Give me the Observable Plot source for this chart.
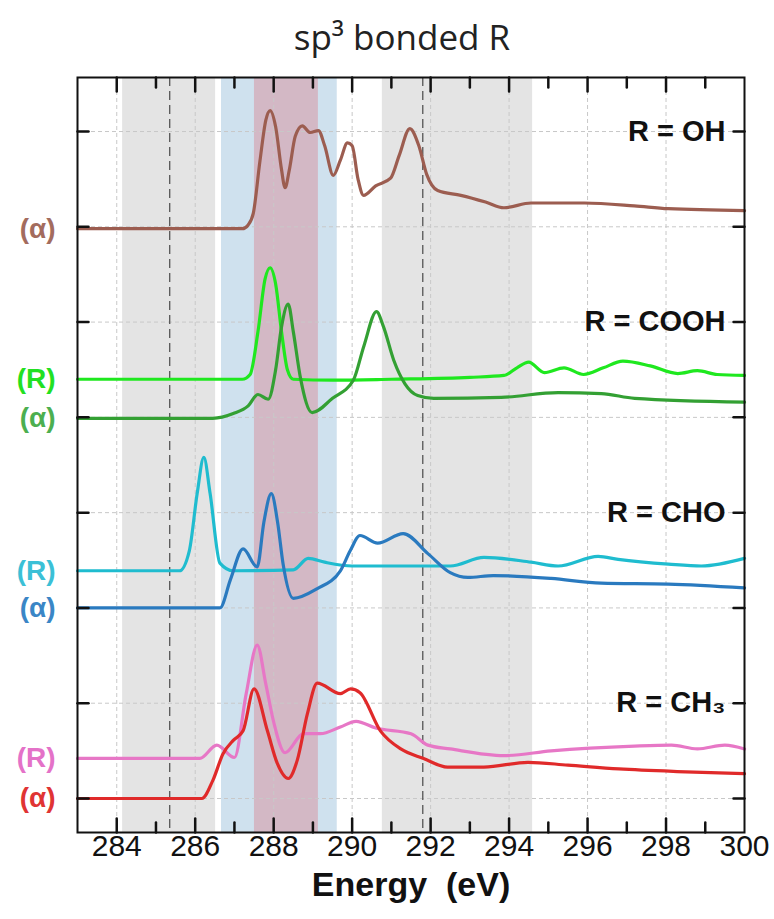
<!DOCTYPE html>
<html>
<head>
<meta charset="utf-8">
<script src="https://cdn.jsdelivr.net/npm/d3@7"></script>
<script src="https://cdn.jsdelivr.net/npm/@observablehq/plot@0.6"></script>
<style>
  html, body { margin: 0; padding: 0; background: #fff; }
</style>
</head>
<body>
<div id="chart"></div>
<script>
// ---- data (energy eV, offset intensity) ----
const OH_alpha = [[283,5.98],[287.2,5.98],[287.35,6.02],[287.48,6.14],[287.65,6.69],[287.8,7.12],[287.91,7.22],[288.05,7.05],[288.2,6.6],[288.29,6.41],[288.4,6.6],[288.55,6.95],[288.73,7.06],[288.93,6.99],[289.14,7.01],[289.3,6.85],[289.52,6.54],[289.7,6.7],[289.88,6.88],[290.0,6.85],[290.15,6.5],[290.29,6.33],[290.6,6.43],[290.98,6.51],[291.2,6.75],[291.47,7.03],[291.7,6.85],[291.9,6.55],[292.18,6.38],[292.77,6.33],[293.4,6.26],[293.87,6.20],[294.56,6.25],[295.92,6.25],[297.19,6.22],[298.06,6.19],[300,6.17]];
const COOH_R = [[283,4.40],[287.2,4.40],[287.4,4.45],[287.6,4.9],[287.78,5.45],[287.91,5.57],[288.05,5.4],[288.2,4.9],[288.35,4.5],[288.5,4.40],[289.5,4.39],[291,4.40],[293.0,4.42],[293.87,4.44],[294.2,4.52],[294.5,4.58],[294.9,4.47],[295.4,4.52],[295.9,4.45],[296.4,4.52],[296.9,4.59],[297.6,4.54],[298.3,4.46],[298.8,4.49],[299.3,4.45],[300,4.44]];
const COOH_alpha = [[283,3.99],[286.45,3.99],[286.97,4.04],[287.35,4.12],[287.6,4.24],[287.86,4.19],[288.05,4.5],[288.2,4.95],[288.37,5.19],[288.5,4.9],[288.68,4.42],[288.98,4.05],[289.5,4.2],[290.03,4.39],[290.3,4.75],[290.62,5.11],[290.8,4.95],[291.06,4.6],[291.35,4.35],[291.67,4.23],[292.08,4.2],[293.8,4.21],[295.25,4.26],[296.35,4.25],[297.2,4.2],[300,4.16]];
const CHO_R = [[283,2.39],[285.6,2.39],[285.85,2.6],[286.05,3.2],[286.22,3.58],[286.38,3.2],[286.63,2.47],[286.97,2.39],[288.5,2.40],[288.88,2.52],[289.3,2.48],[290.0,2.44],[292.5,2.44],[293.36,2.53],[294.56,2.48],[295.25,2.44],[296.27,2.54],[296.78,2.51],[298.06,2.46],[298.9,2.44],[300,2.52]];
const CHO_alpha = [[283,2.00],[286.63,2.00],[286.9,2.3],[287.22,2.62],[287.58,2.43],[287.75,2.9],[287.94,3.20],[288.1,2.9],[288.24,2.46],[288.5,2.10],[289.1,2.20],[289.7,2.39],[289.95,2.6],[290.2,2.76],[290.65,2.68],[291.3,2.78],[291.93,2.57],[292.5,2.37],[292.95,2.32],[293.6,2.34],[295.07,2.31],[296.35,2.26],[298.06,2.25],[300,2.21]];
const CH3_R = [[283,0.42],[286.12,0.42],[286.55,0.56],[287.0,0.43],[287.3,1.1],[287.58,1.61],[287.8,1.2],[287.99,0.82],[288.29,0.48],[288.76,0.68],[289.19,0.68],[289.7,0.75],[290.1,0.81],[290.6,0.74],[291.5,0.68],[291.93,0.56],[292.5,0.52],[293.87,0.45],[295.07,0.50],[297.2,0.55],[298.14,0.56],[298.8,0.52],[299.5,0.56],[300,0.52]];
const CH3_alpha = [[283,0.0],[286.17,0.0],[286.45,0.19],[286.71,0.47],[286.97,0.61],[287.22,0.71],[287.5,1.15],[287.84,0.71],[288.09,0.37],[288.37,0.21],[288.6,0.40],[288.86,0.89],[289.11,1.21],[289.7,1.10],[289.96,1.15],[290.2,1.11],[290.72,0.71],[291.24,0.52],[291.82,0.42],[292.43,0.33],[293.36,0.33],[294.48,0.38],[295.5,0.35],[296.8,0.31],[298.5,0.28],[300,0.26]];

const seriesNames = ["OH_alpha","COOH_R","COOH_alpha","CHO_R","CHO_alpha","CH3_R","CH3_alpha"];
const seriesColors = ["#9c5d50","#1fe81f","#33a033","#1fbccf","#2a7abf","#e777c6","#e02a2a"];
const leftLabels = ["(α)","(R)","(α)","(R)","(α)","(R)","(α)"];
const leftLabelY = [5.98,4.40,3.99,2.39,2.00,0.42,0.0];
const leftLabelColors = ["#a36c5e","#22e022","#4caf50","#3bc0d6","#3a86c6","#e472c8","#e03434"];
const rightLabels = ["R = OH","R = COOH","R = CHO","R = CH₃"];
const rightLabelY = [7,5,3,1];
const xTickLabels = [284,286,288,290,292,294,296,298,300];
const xMinorTicks = [284,285,286,287,288,289,290,291,292,293,294,295,296,297,298,299];
const yTicks = [0,1,2,3,4,5,6,7];
const grayBands = [[284.15,286.52],[290.77,294.6]];
const blueBand = [[286.67,289.62]];
const redBand = [[287.51,289.14]];
const darkDashed = [285.35,291.8];

const allSeries = [OH_alpha, COOH_R, COOH_alpha, CHO_R, CHO_alpha, CH3_R, CH3_alpha];
const lineData = allSeries.flatMap((s, i) => s.map(([e, v]) => ({e, v, name: seriesNames[i]})));
const left = leftLabels.map((t, i) => ({t, y: leftLabelY[i], c: leftLabelColors[i]}));
const right = rightLabels.map((t, i) => ({t, y: rightLabelY[i]}));

const tickShape = {draw(ctx, l) { ctx.moveTo(0, 0); ctx.lineTo(0, -l); }};
const band = (arr) => arr.map(([a, b]) => ({a, b}));

const plot = Plot.plot({
  width: 774,
  height: 919,
  marginLeft: 77,
  marginRight: 30,
  marginTop: 77,
  marginBottom: 87,
  style: {fontFamily: "'Liberation Sans', Arial, sans-serif", background: "#fff"},
  x: {domain: [283, 300], axis: null},
  y: {domain: [-0.357, 7.567], axis: null},
  color: {domain: seriesNames, range: seriesColors},
  marks: [
    Plot.rect(band(grayBands), {x1: "a", x2: "b", fill: "#e4e4e4"}),
    Plot.rect(band(blueBand), {x1: "a", x2: "b", fill: "#cfe1ee"}),
    Plot.rect(band(redBand), {x1: "a", x2: "b", fill: "#d3b8c5"}),
    Plot.ruleX(xTickLabels.slice(0, -1), {stroke: "#c8c8c8", strokeWidth: 1, strokeDasharray: "4,3"}),
    Plot.ruleY(yTicks, {stroke: "#c8c8c8", strokeWidth: 1, strokeDasharray: "4,3"}),
    Plot.ruleX(darkDashed, {stroke: "#555", strokeWidth: 1.3, strokeDasharray: "9,5"}),
    Plot.line(lineData, {x: "e", y: "v", z: "name", stroke: "name", strokeWidth: 3.2, curve: "monotone-x"}),
    Plot.text(left, {x: 283, y: "y", text: "t", fill: "c", textAnchor: "end", dx: -22, fontSize: 28, fontWeight: "bold"}),
    Plot.text(right, {x: 300, y: "y", text: "t", fill: "#111", textAnchor: "end", dx: -19, fontSize: 29, fontWeight: "bold", letterSpacing: "0.5px"}),
    // inward ticks
    Plot.vector(xMinorTicks, {x: d => d, frameAnchor: "bottom", length: d => d % 2 === 0 ? 11 : 8, rotate: 0, anchor: "start", shape: tickShape, stroke: "#111", strokeWidth: 2.5}),
    Plot.vector(xMinorTicks, {x: d => d, frameAnchor: "top", length: d => d % 2 === 0 ? 11 : 8, rotate: 180, anchor: "start", shape: tickShape, stroke: "#111", strokeWidth: 2.5}),
    Plot.vector(yTicks, {y: d => d, frameAnchor: "left", length: 11, rotate: 90, anchor: "start", shape: tickShape, stroke: "#111", strokeWidth: 2.5}),
    Plot.vector(yTicks, {y: d => d, frameAnchor: "right", length: 11, rotate: -90, anchor: "start", shape: tickShape, stroke: "#111", strokeWidth: 2.5}),
    Plot.frame({stroke: "#111", strokeWidth: 2}),
    // tick labels
    Plot.text(xTickLabels, {x: d => d, text: d => String(d), frameAnchor: "bottom", dy: 23, fontSize: 30, fill: "#111", fontFamily: "'Liberation Sans Narrow', 'Arial Narrow', 'Liberation Sans', sans-serif"}),
    Plot.text(["Energy  (eV)"], {x: 291.5, frameAnchor: "bottom", dy: 63, fontSize: 34, fontWeight: "bold", fill: "#111"}),
    Plot.text(["sp³ bonded R"], {frameAnchor: "top", dx: -9, dy: -52, fontSize: 35, fill: "#222", fontFamily: "'Open Sans', 'Noto Sans', sans-serif"})
  ]
});
document.getElementById("chart").appendChild(plot);
</script>
</body>
</html>
